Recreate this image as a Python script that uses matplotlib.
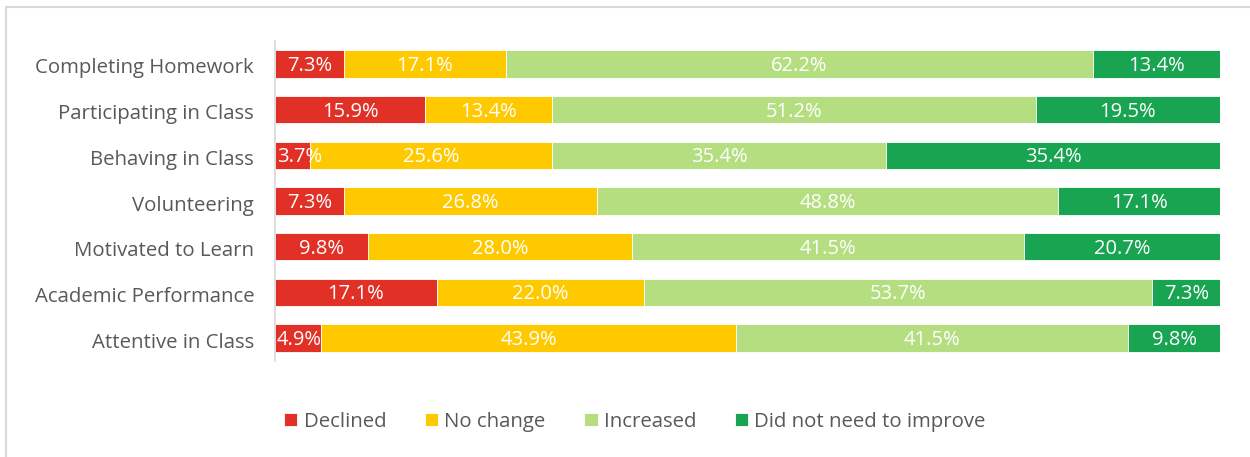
import matplotlib

matplotlib.use("Agg")
import matplotlib.pyplot as plt
from matplotlib.patches import Rectangle
from matplotlib.transforms import ScaledTranslation

categories = [
    "Completing Homework",
    "Participating in Class",
    "Behaving in Class",
    "Volunteering",
    "Motivated to Learn",
    "Academic Performance",
    "Attentive in Class",
]
series_names = ["Declined", "No change", "Increased", "Did not need to improve"]
declined = [7.3, 15.9, 3.7, 7.3, 9.8, 17.1, 4.9]
no_change = [17.1, 13.4, 25.6, 26.8, 28.0, 22.0, 43.9]
increased = [62.2, 51.2, 35.4, 48.8, 41.5, 53.7, 41.5]
not_needed = [13.4, 19.5, 35.4, 17.1, 20.7, 7.3, 9.8]
colors = ["#E13026", "#FFC900", "#B5DE81", "#19A452"]

plt.rcParams["font.family"] = ["Open Sans", "DejaVu Sans"]
text_color = "#595959"

fig = plt.figure(figsize=(12.5, 4.57), dpi=100)
ax = fig.add_axes([0.22, 0.21, 0.756, 0.70])

# chart border, cut by the image edge on the right and bottom
fig.patches.append(
    Rectangle((6 / 1250, -0.1), 1.2, 1 - 7 / 457 + 0.1,
              transform=fig.transFigure, fill=False,
              edgecolor="#D9D9D9", linewidth=1.5)
)

y = list(range(len(categories)))
left = [0.0] * len(categories)
for name, values, color in zip(
    series_names, [declined, no_change, increased, not_needed], colors
):
    ax.barh(y, values, height=0.6, left=left, color=color, label=name,
            edgecolor="white", linewidth=0.6)
    for i, v in enumerate(values):
        # narrow segments: label spills to the right, like the original
        if v < 6:
            ax.text(left[i] + 0.2, i + 0.04, f"{v:.1f}%", ha="left",
                    va="center", color="white", fontsize=14.5)
        else:
            ax.text(left[i] + v / 2, i + 0.04, f"{v:.1f}%", ha="center",
                    va="center", color="white", fontsize=14.5)
    left = [a + b for a, b in zip(left, values)]

ax.set_xlim(0, 100)
ax.set_ylim(len(categories) - 0.5, -0.5)
ax.set_yticks(y, categories)
ax.tick_params(axis="y", length=0, pad=15, labelsize=14.7, labelcolor=text_color)
shift = ScaledTranslation(0, -2 / 100, fig.dpi_scale_trans)
for lbl in ax.get_yticklabels():
    lbl.set_transform(lbl.get_transform() + shift)
ax.set_xticks([])
for side in ["top", "right", "bottom"]:
    ax.spines[side].set_visible(False)
ax.spines["left"].set_color("#D9D9D9")
ax.spines["left"].set_linewidth(1.2)

fig.legend(
    loc="center", bbox_to_anchor=(0.508, 0.077), ncol=4, frameon=False,
    fontsize=14.7, labelcolor=text_color, handlelength=0.65, handleheight=0.65,
    handletextpad=0.3, columnspacing=1.9,
)

fig.savefig("out.png", dpi=100)
